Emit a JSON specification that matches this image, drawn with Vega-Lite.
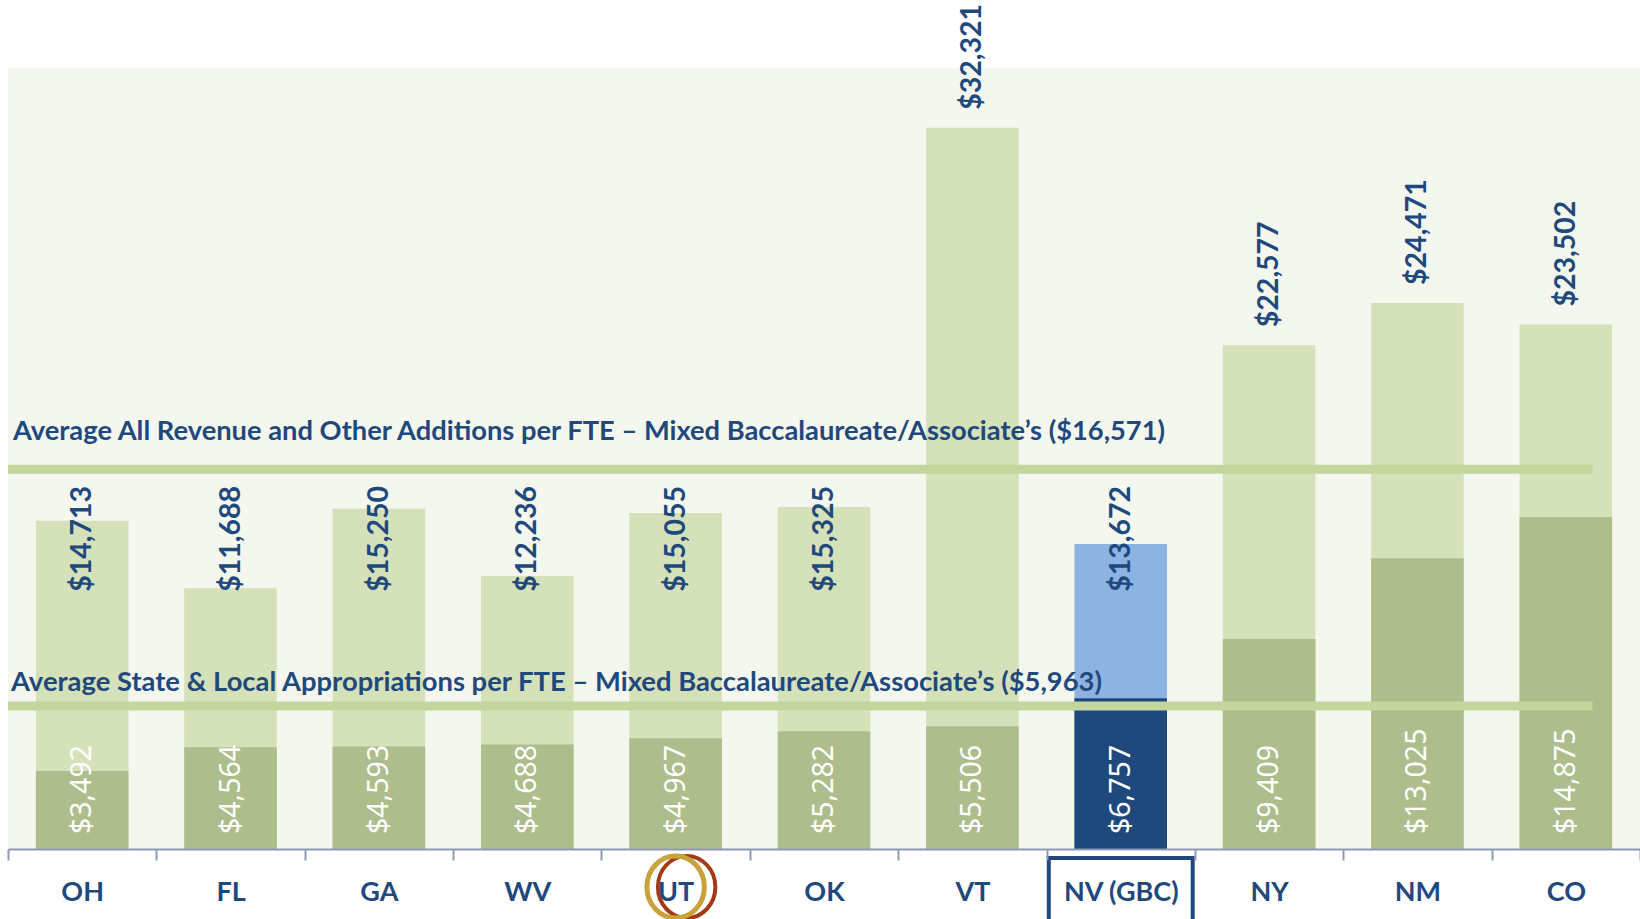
{
  "$schema": "https://vega.github.io/schema/vega-lite/v6.json",
  "width": 1632,
  "height": 781,
  "autosize": {"type": "none"},
  "padding": {"left": 8, "top": 68, "right": 0, "bottom": 70},
  "background": "white",
  "config": {"view": {"fill": "#F4F7EE", "stroke": null}, "font": "Lato"},
  "datasets": {
    "states": [
      {"state": "OH", "total": 14713, "approp": 3492},
      {"state": "FL", "total": 11688, "approp": 4564},
      {"state": "GA", "total": 15250, "approp": 4593},
      {"state": "WV", "total": 12236, "approp": 4688},
      {"state": "UT", "total": 15055, "approp": 4967},
      {"state": "OK", "total": 15325, "approp": 5282},
      {"state": "VT", "total": 32321, "approp": 5506},
      {"state": "NV (GBC)", "total": 13672, "approp": 6757},
      {"state": "NY", "total": 22577, "approp": 9409},
      {"state": "NM", "total": 24471, "approp": 13025},
      {"state": "CO", "total": 23502, "approp": 14875}
    ],
    "lines": [
      {"kind": "all", "value": 16571, "label": "Average All Revenue and Other Additions per FTE – Mixed Baccalaureate/Associate’s ($16,571)"},
      {"kind": "approp", "value": 5963, "label": "Average State & Local Appropriations per FTE – Mixed Baccalaureate/Associate’s  ($5,963)"}
    ]
  },
  "layer": [
    {
      "data": {"name": "states"},
      "mark": {"type": "bar", "width": {"band": 0.624}},
      "encoding": {
        "x": {"field": "state", "type": "nominal", "title": null,
          "scale": {"domain": ["OH", "FL", "GA", "WV", "UT", "OK", "VT", "NV (GBC)", "NY", "NM", "CO"], "paddingInner": 0, "paddingOuter": 0},
          "axis": {"title": null, "labelFont": "Lato", "labelFontWeight": "bold", "labelFontSize": 27, "labelColor": "#1F497D",
            "labelPadding": 32, "labelBaseline": "middle", "labelAngle": 0, "labelLimit": 0, "tickBand": "extent", "tickSize": 11,
            "tickColor": "#8E9AB5", "tickWidth": 2, "domainColor": "#8E9AB5", "domainWidth": 2, "zindex": 1, "grid": false}},
        "y": {"field": "total", "type": "quantitative", "scale": {"domain": [0, 35000], "nice": false}, "axis": null},
        "color": {"condition": {"test": "datum.state === 'NV (GBC)'", "value": "#8DB3E2"}, "value": "#D5E1B9"}
      }
    },
    {
      "data": {"name": "states"},
      "mark": {"type": "bar", "width": {"band": 0.624}},
      "encoding": {
        "x": {"field": "state", "type": "nominal", "title": null},
        "y": {"field": "approp", "type": "quantitative", "scale": {"domain": [0, 35000], "nice": false}, "axis": null},
        "color": {"condition": {"test": "datum.state === 'NV (GBC)'", "value": "#1F497D"}, "value": "#ADBE8C"}
      }
    },
    {
      "data": {"name": "lines"},
      "mark": {"type": "rule", "strokeWidth": 9, "color": "#C3D69B", "yOffset": -10},
      "encoding": {
        "x": {"datum": "OH", "bandPosition": 0, "title": null},
        "x2": {"datum": "CO", "bandPosition": 0.68},
        "y": {"field": "value", "type": "quantitative", "scale": {"domain": [0, 35000], "nice": false}, "axis": null}
      }
    },
    {
      "data": {"name": "lines"},
      "transform": [{"filter": "datum.kind === 'all'"}],
      "mark": {"type": "text", "align": "left", "baseline": "alphabetic", "dx": 5, "dy": -39, "font": "Lato", "fontWeight": "bold", "fontSize": 27.3, "color": "#1F497D"},
      "encoding": {
        "x": {"datum": "OH", "bandPosition": 0, "title": null},
        "y": {"field": "value", "type": "quantitative", "scale": {"domain": [0, 35000], "nice": false}, "axis": null},
        "text": {"field": "label"}
      }
    },
    {
      "data": {"name": "lines"},
      "transform": [{"filter": "datum.kind === 'approp'"}],
      "mark": {"type": "text", "align": "left", "baseline": "alphabetic", "dx": 3, "dy": -25, "font": "Lato", "fontWeight": "bold", "fontSize": 27.4, "color": "#1F497D"},
      "encoding": {
        "x": {"datum": "OH", "bandPosition": 0, "title": null},
        "y": {"field": "value", "type": "quantitative", "scale": {"domain": [0, 35000], "nice": false}, "axis": null},
        "text": {"field": "label"}
      }
    },
    {
      "data": {"name": "states"},
      "transform": [{"filter": "datum.total < 20000"}],
      "mark": {"type": "text", "angle": -90, "align": "center", "baseline": "middle", "font": "Lato", "fontWeight": "bold", "fontSize": 28.5, "color": "#1F497D"},
      "encoding": {
        "x": {"field": "state", "type": "nominal", "title": null},
        "y": {"datum": 13900, "type": "quantitative", "scale": {"domain": [0, 35000], "nice": false}, "axis": null},
        "text": {"field": "total", "type": "quantitative", "format": "$,.0f"}
      }
    },
    {
      "data": {"name": "states"},
      "transform": [{"filter": "datum.total >= 20000"}],
      "mark": {"type": "text", "angle": -90, "align": "left", "baseline": "middle", "dx": 18, "font": "Lato", "fontWeight": "bold", "fontSize": 28.5, "color": "#1F497D"},
      "encoding": {
        "x": {"field": "state", "type": "nominal", "title": null},
        "y": {"field": "total", "type": "quantitative", "scale": {"domain": [0, 35000], "nice": false}, "axis": null},
        "text": {"field": "total", "type": "quantitative", "format": "$,.0f"}
      }
    },
    {
      "data": {"name": "states"},
      "mark": {"type": "text", "angle": -90, "align": "left", "baseline": "middle", "dx": 15, "font": "Noto Sans", "fontSize": 28.5, "color": "white"},
      "encoding": {
        "x": {"field": "state", "type": "nominal", "title": null},
        "y": {"datum": 0, "type": "quantitative", "scale": {"domain": [0, 35000], "nice": false}, "axis": null},
        "text": {"field": "approp", "type": "quantitative", "format": "$,.0f"}
      }
    },
    {
      "data": {"values": [{"state": "UT"}]},
      "mark": {"type": "point", "shape": "M -1 0 A 1 1.08 0 1 1 1 0 A 1 1.08 0 1 1 -1 0 Z", "filled": false, "size": 3300, "strokeWidth": 4, "color": "#A23A14", "opacity": 1, "xOffset": 11},
      "encoding": {
        "x": {"field": "state", "type": "nominal", "title": null},
        "y": {"datum": -1700, "type": "quantitative", "scale": {"domain": [0, 35000], "nice": false}, "axis": null}
      }
    },
    {
      "data": {"values": [{"state": "UT"}]},
      "mark": {"type": "point", "shape": "M -1 0 A 1 1.08 0 1 1 1 0 A 1 1.08 0 1 1 -1 0 Z", "filled": false, "size": 3300, "strokeWidth": 5, "color": "#C9A23A", "opacity": 1},
      "encoding": {
        "x": {"field": "state", "type": "nominal", "title": null},
        "y": {"datum": -1700, "type": "quantitative", "scale": {"domain": [0, 35000], "nice": false}, "axis": null}
      }
    },
    {
      "data": {"values": [{"state": "NV (GBC)"}]},
      "mark": {"type": "bar", "width": {"band": 0.97}, "fillOpacity": 0, "stroke": "#1F497D", "strokeWidth": 4},
      "encoding": {
        "x": {"field": "state", "type": "nominal", "title": null},
        "y": {"datum": -403, "type": "quantitative", "scale": {"domain": [0, 35000], "nice": false}, "axis": null},
        "y2": {"datum": -3500}
      }
    }
  ]
}
